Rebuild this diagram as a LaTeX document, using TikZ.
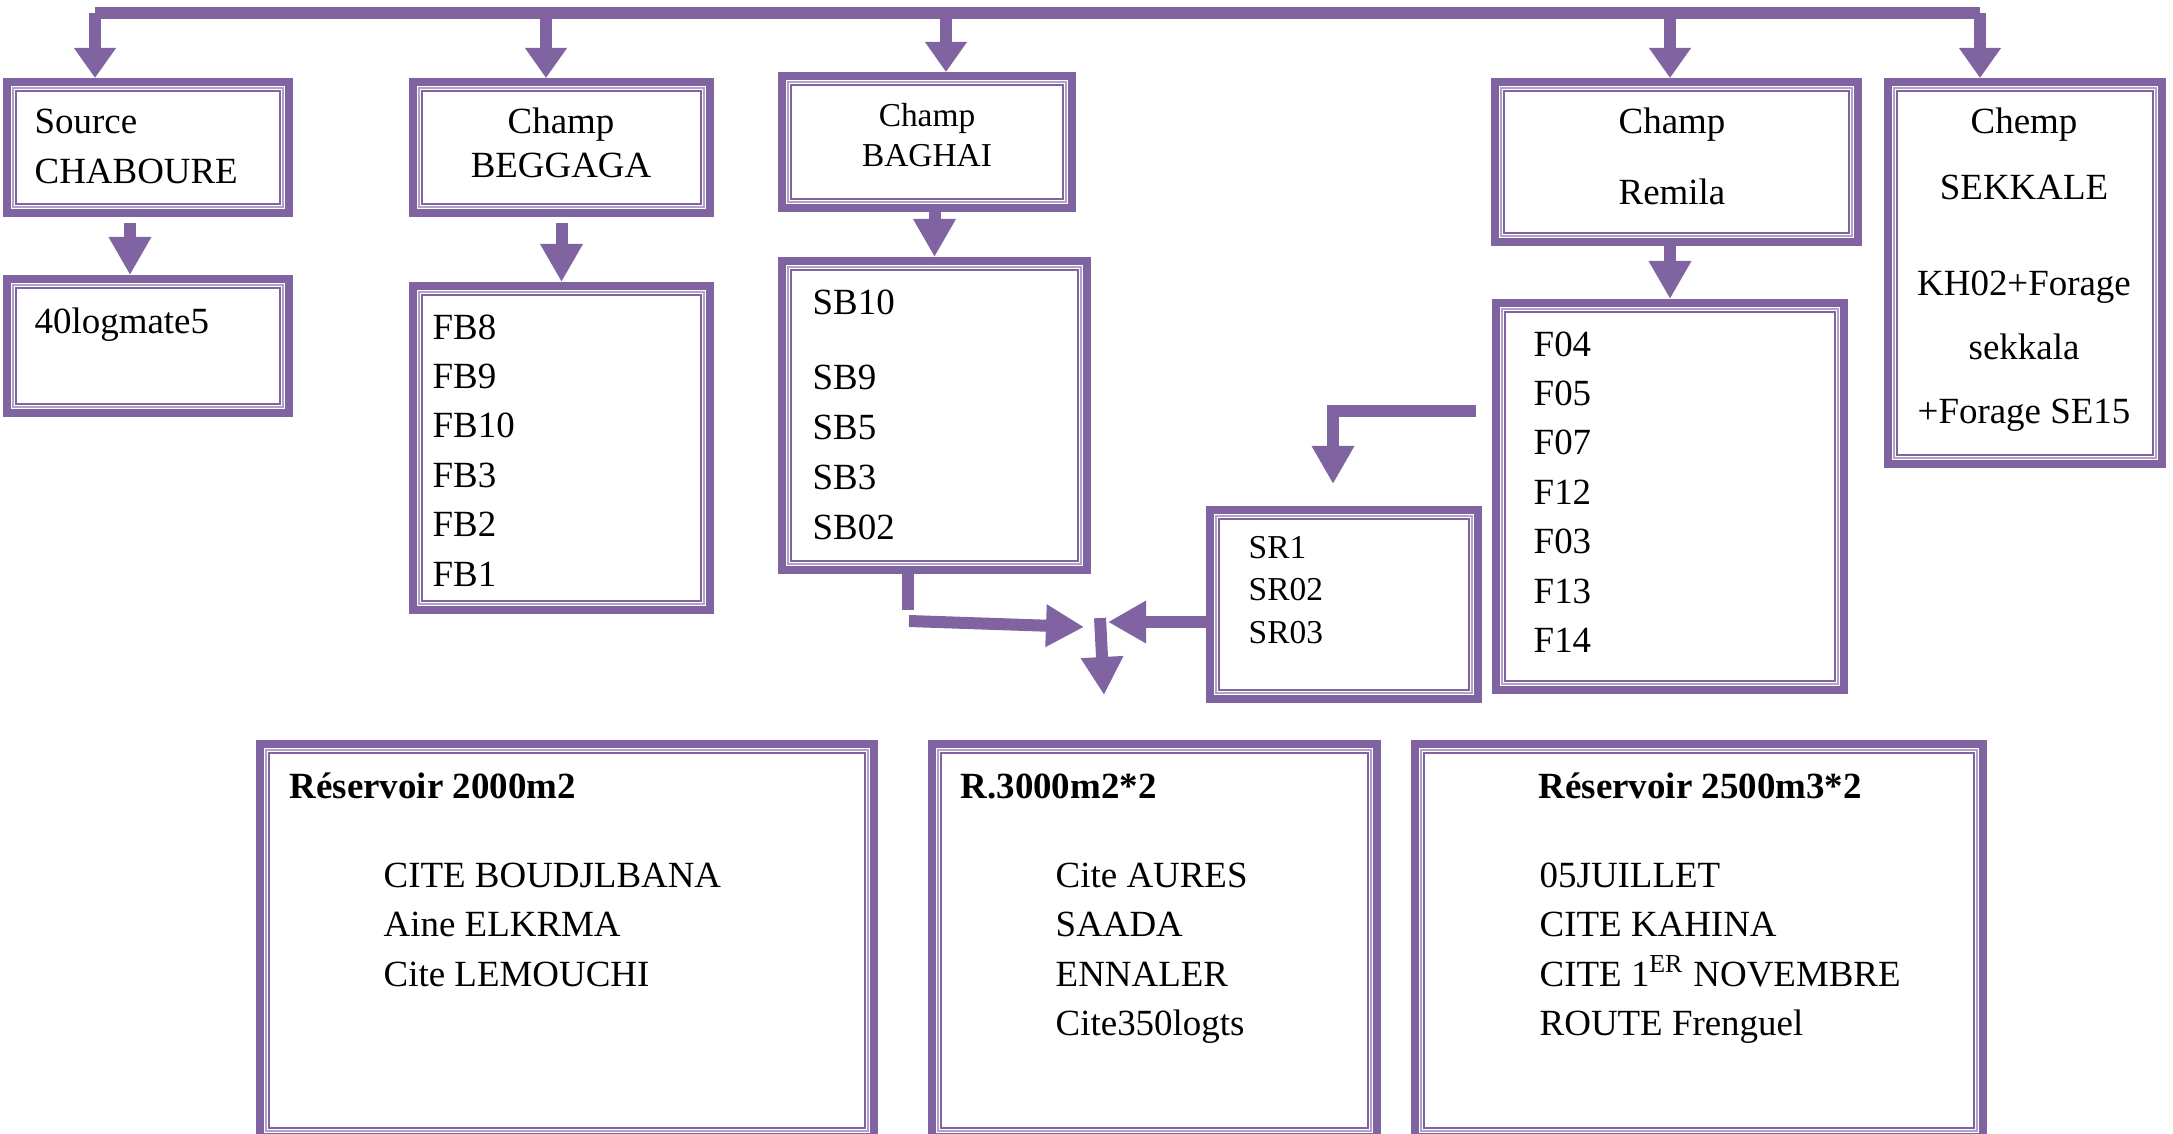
\documentclass[tikz,border=0pt]{standalone}
\usepackage{fontspec}
\setmainfont{Liberation Serif}
\usetikzlibrary{arrows.meta,fit}
\definecolor{plum}{HTML}{8064A2}
\definecolor{lilac}{HTML}{B3A2C7}
\tikzset{
  frame/.style={draw=plum,line width=0.08cm,inner sep=0pt},
  rail/.style={draw=plum,line width=0.12cm},
  pipe/.style={rail,-{Triangle[length=0.38cm,width=0.40cm]}},
  drop/.style={rail,-{Triangle[length=0.30cm,width=0.40cm]}},
  entry/.style={anchor=base west,inner sep=0pt,font=\fontsize{10.5}{14}\selectfont},
  entryc/.style={entry,anchor=base},
  entrys/.style={entry,font=\fontsize{9.5}{12}\selectfont},
  tankname/.style={entry,font=\fontsize{10.5}{14}\selectfont\bfseries}
}
\begin{document}
\begin{tikzpicture}[x=0.01cm,y=-0.01cm]
\useasboundingbox (0,0) rectangle (2173,1133);
\clip (0,0) rectangle (2173,1133);

% boxes
\node[frame,fit={(7,82)(289,213)}] (src) {};
\node[frame,fit={(7,279)(289,413)}] (log) {};
\node[frame,fit={(413,82)(710,213)}] (beg) {};
\node[frame,fit={(413,286)(710,610)}] (fb) {};
\node[frame,fit={(782,76)(1072,208)}] (bag) {};
\node[frame,fit={(782,261)(1087,570)}] (sb) {};
\node[frame,fit={(1495,82)(1858,242)}] (rem) {};
\node[frame,fit={(1496,303)(1844,690)}] (f) {};
\node[frame,fit={(1888,82)(2162,464)}] (sek) {};
\node[frame,fit={(1210,510)(1478,699)}] (sr) {};
\node[frame,fit={(260,744)(874,1137)}] (r1) {};
\node[frame,fit={(932,744)(1377,1137)}] (r2) {};
\node[frame,fit={(1415,744)(1983,1137)}] (r3) {};
\foreach \b in {src,log,beg,fb,bag,sb,rem,f,sek,sr,r1,r2,r3} {
  \draw[lilac,line width=0.015cm] ([shift={(10,10)}]\b.north west) rectangle ([shift={(-10,-10)}]\b.south east);
  \draw[plum,line width=0.015cm] ([shift={(13,13)}]\b.north west) rectangle ([shift={(-13,-13)}]\b.south east);
}

% texts
\node[entry] (srct) at (34,133) {Source};
\node[entry] (srcb) at (34,183) {CHABOURE};
\node[entry] (logt) at (34,333) {40logmate5};
\node[entryc] (begt) at (561,133) {Champ};
\node[entryc] (begb) at (561,177) {BEGGAGA};
\node[entryc,entrys,anchor=base] (bagt) at (927,126) {Champ};
\node[entryc,entrys,anchor=base] (bagb) at (927,166) {BAGHAI};
\node[entryc] (remt) at (1672,133) {Champ};
\node[entryc] (remb) at (1672,204) {Remila};
\foreach \t/\y [count=\i] in {Chemp/133,SEKKALE/199,KH02+Forage/295,sekkala/359,+Forage SE15/423}
  \node[entryc] (sek\i) at (2024,\y) {\t};
\foreach \t [count=\i from 0] in {FB8,FB9,FB10,FB3,FB2,FB1}
  \node[entry] (fb\i) at (432,339+49.4*\i) {\t};
\foreach \t/\y [count=\i] in {SB10/314,SB9/389,SB5/439,SB3/489,SB02/539}
  \node[entry] (sb\i) at (812,\y) {\t};
\foreach \t [count=\i from 0] in {F04,F05,F07,F12,F03,F13,F14}
  \node[entry] (f\i) at (1533,356+49.4*\i) {\t};
\foreach \t [count=\i from 0] in {SR1,SR02,SR03}
  \node[entrys] (sr\i) at (1248,558+42.5*\i) {\t};

\node[tankname] (r1t) at (289,798) {Réservoir 2000m2};
\foreach \t [count=\i from 0] in {CITE BOUDJLBANA,Aine ELKRMA,Cite LEMOUCHI}
  \node[entry] (r1\i) at (383,887+49.5*\i) {\t};
\node[tankname] (r2t) at (960,798) {R.3000m2*2};
\foreach \t [count=\i from 0] in {Cite AURES,SAADA,ENNALER,Cite350logts}
  \node[entry] (r2\i) at (1055,887+49.5*\i) {\t};
\node[tankname] (r3t) at (1538,798) {Réservoir 2500m3*2};
\foreach \t [count=\i from 0] in {05JUILLET,CITE KAHINA,CITE 1\textsuperscript{ER} NOVEMBRE,ROUTE Frenguel}
  \node[entry] (r3\i) at (1539,887+49.5*\i) {\t};

% top bus and drops
\coordinate (busL) at (95,13);
\coordinate (busR) at (1980,13);
\draw[rail] (busL) -- (busR);
\foreach \x/\b in {95/src,546/beg,946/bag,1670/rem,1980/sek}
  \draw[drop] (busL -| \x,0) -- (\x,0 |- \b.north);

% second level
\draw[pipe,shorten <=0.06cm] ([xshift=-0.18cm]src.south) -- ([xshift=-0.18cm]log.north);
\draw[pipe,shorten <=0.06cm] (beg.south) -- (fb.north);
\draw[pipe] (bag.south -| sb.north) -- (sb.north);
\draw[pipe] (rem.south -| f.north) -- (f.north);

% Remila wells to SR
\coordinate (fout) at (1476,411);
\coordinate (srin) at (1333,484);
\draw[pipe] (fout) -| (srin);

% junction
\coordinate (sbout) at (908,610);
\coordinate (sbturn) at (909,621);
\coordinate (hubL) at (1084,627);
\coordinate (hubR) at (1108,622);
\coordinate (hubT) at (1100,618);
\coordinate (hubD) at (1104,695);
\draw[rail] (sbout |- sb.south) -- (sbout);
\draw[pipe] (sbturn) -- (hubL);
\draw[pipe] (sr.west |- hubR) -- (hubR);
\draw[pipe] (hubT) -- (hubD);
\end{tikzpicture}
\end{document}
